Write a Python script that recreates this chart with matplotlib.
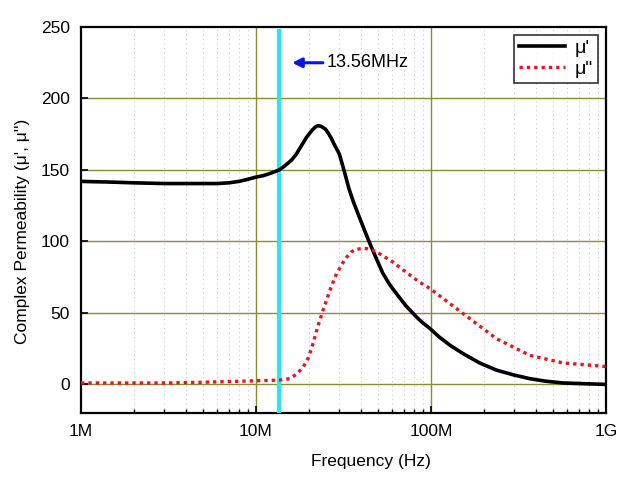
import matplotlib
matplotlib.use("Agg")
import matplotlib.pyplot as plt
from matplotlib.ticker import LogLocator, NullFormatter

plt.rcParams['font.family'] = ['Liberation Sans', 'DejaVu Sans']

# mu' (real part), frequency in Hz
f_real = [1e6, 1.5e6, 2e6, 3e6, 4e6, 5e6, 6e6, 7e6, 8e6, 9e6, 10e6, 11e6, 12e6, 13.56e6,
          14.5e6, 16e6, 17e6, 18e6, 19.5e6, 21e6, 22e6, 22.7e6, 23.5e6, 25e6, 26e6,
          27e6, 28e6, 29e6, 30e6, 31e6, 32.5e6, 34e6, 36e6, 39e6, 42e6, 45e6, 48e6,
          53e6, 58e6, 64e6, 72e6, 83e6, 90e6, 99e6, 112e6, 130e6, 153e6, 190e6,
          237e6, 300e6, 368e6, 450e6, 570e6, 750e6, 1e9]
mu_real = [142, 141.5, 141, 140.5, 140.5, 140.5, 140.5, 141, 142, 143.5, 145, 146, 147.5, 150,
           152.5, 157, 161, 166, 173, 178, 180.3, 181, 180.6, 178.5, 175.5,
           172, 168, 164.5, 161, 155, 146, 137, 128, 117, 107, 98, 90,
           78, 70, 63, 55, 47, 43, 39, 33, 27, 21.5, 15,
           10, 6.5, 4, 2.3, 1, 0.5, 0]

# mu'' (imaginary part)
f_imag = [1e6, 2e6, 3e6, 5e6, 7e6, 10e6, 12e6, 13.56e6, 15.6e6, 17e6, 18.6e6, 20e6,
          21.2e6, 22.5e6, 24.2e6, 26.5e6, 28.9e6, 31e6, 33e6, 35e6, 36.8e6, 40e6,
          42.9e6, 46e6, 49e6, 60e6, 69.5e6, 85e6, 99e6, 112e6, 153e6, 237e6, 368e6,
          570e6, 1e9]
mu_imag = [1, 1, 1, 1.5, 2, 2.5, 2.8, 3, 4, 7, 12, 19,
           28.5, 40, 52, 66, 77.5, 84, 89, 92.5, 94.3, 95,
           95, 94, 92.6, 86, 80, 72, 67, 62, 49.5, 32, 20.3,
           15, 12.5]

x_ticks = [1e6, 1e7, 1e8, 1e9]
x_ticklabels = ["1M", "10M", "100M", "1G"]
y_ticks = [0, 50, 100, 150, 200, 250]
marker_freq = 13.56e6
marker_label = "13.56MHz"

fig = plt.figure(figsize=(6.33, 4.78), dpi=100)
ax = fig.add_axes([0.128, 0.136, 0.829, 0.8075])

ax.set_xscale('log')
ax.set_xlim(1e6, 1e9)
ax.set_ylim(-20, 250)

# grids
ax.xaxis.set_minor_locator(LogLocator(base=10, subs=range(2, 10)))
ax.xaxis.set_minor_formatter(NullFormatter())
ax.grid(which='minor', axis='x', color='#c8c8c8', linestyle=(0, (1, 3)), linewidth=0.8)
for xv in [1e7, 1e8]:
    ax.axvline(xv, color='#8c8c30', linewidth=1.0, zorder=1)
for yv in [0, 50, 100, 150, 200]:
    ax.axhline(yv, color='#8c8c30', linewidth=1.0, zorder=1)

ax.plot(f_real, mu_real, color='black', linewidth=2.6, label="μ'", zorder=4)
ax.plot(f_imag, mu_imag, color='#e8141e', linewidth=2.4, linestyle=(0, (1, 1.2)),
        label='μ"', zorder=4)

ax.axvline(marker_freq, color='#2ee6ea', linewidth=3, ymin=0, ymax=0.99, zorder=3)
ax.annotate(marker_label, xy=(16.1e6, 225), xytext=(25.5e6, 225),
            fontsize=13, va='center', ha='left',
            arrowprops=dict(arrowstyle='-|>', color='#0a14e6', lw=2.2,
                            mutation_scale=14, shrinkA=1, shrinkB=0))

ax.set_xticks(x_ticks)
ax.set_xticklabels(x_ticklabels)
ax.set_yticks(y_ticks)
ax.tick_params(axis='both', which='major', direction='in', length=5, width=1.2,
               labelsize=12.5, top=False, right=False, pad=8)
ax.tick_params(axis='x', which='minor', direction='in', length=3, width=1.0, top=False)

for s in ax.spines.values():
    s.set_linewidth(1.6)

ax.set_xlabel("Frequency (Hz)", fontsize=12.5)
ax.xaxis.set_label_coords(0.553, -0.105)
ax.set_ylabel("Complex Permeability (μ', μ'')", fontsize=12.5)
ax.yaxis.set_label_coords(-0.097, 0.47)

leg = ax.legend(loc='upper right', fontsize=14, frameon=True, fancybox=False,
                edgecolor='black', handlelength=2.4, borderaxespad=0.4,
                borderpad=0.25, labelspacing=0.15, handletextpad=0.5)
leg.get_frame().set_linewidth(1.2)

fig.savefig("out.png", dpi=100)
